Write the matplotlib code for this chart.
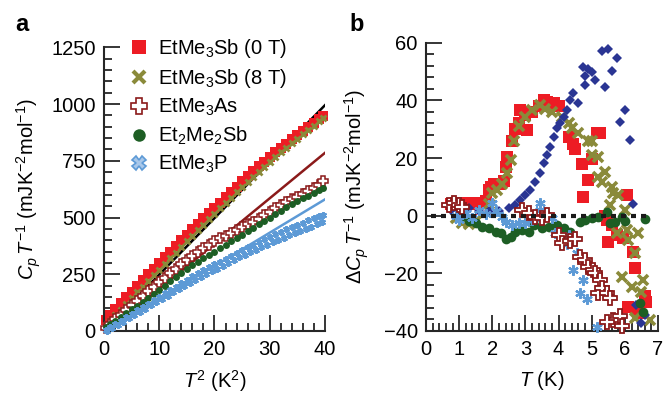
import matplotlib
matplotlib.use("Agg")
import matplotlib.pyplot as plt
from matplotlib.lines import Line2D
from matplotlib.ticker import MultipleLocator

plt.rcParams['font.family'] = ['Liberation Sans', 'DejaVu Sans']
plt.rcParams['mathtext.fontset'] = 'custom'
plt.rcParams['mathtext.rm'] = 'Liberation Sans'
plt.rcParams['mathtext.it'] = 'Liberation Sans:italic'
plt.rcParams['mathtext.bf'] = 'Liberation Sans:bold'

# ---------------- panel a data ----------------
t2 = [0.3, 1, 2, 3, 4, 5, 6, 7, 8, 9, 10, 11, 12, 13, 14, 15, 16, 17, 18, 19, 20,
      21, 22, 23, 24, 25, 26, 27, 28, 29, 30, 31, 32, 33, 34, 35, 36, 37, 38, 39, 39.7]
t2h = [0.5, 1.5, 2.5, 3.5, 4.5, 5.5, 6.5, 7.5, 8.5, 9.5, 10.5, 11.5, 12.5, 13.5, 14.5,
       15.5, 16.5, 17.5, 18.5, 19.5, 20.5, 21.5, 22.5, 23.5, 24.5, 25.5, 26.5, 27.5, 28.5,
       29.5, 30.5, 31.5, 32.5, 33.5, 34.5, 35.5, 36.5, 37.5, 38.5, 39.5]
sb0 = [50, 72, 98, 122, 148, 173, 199, 224, 250, 275, 300, 325, 350, 374, 400, 424, 448,
       472, 496, 520, 543, 566, 590, 613, 636, 659, 682, 703, 725, 746, 767, 787, 807, 826,
       845, 863, 881, 898, 915, 932, 948]
sb8 = [28, 46, 70, 94, 119, 144, 170, 195, 220, 245, 270, 295, 320, 345, 370, 395, 420,
       444, 468, 492, 516, 540, 564, 588, 611, 634, 657, 680, 702, 724, 746, 767, 788, 808,
       828, 848, 867, 886, 905, 924, 940]
asv = [12, 30, 52, 72, 93, 113, 134, 154, 175, 195, 215, 235, 255, 275, 295, 313, 331,
       348, 365, 380, 395, 408, 420, 432, 445, 458, 470, 482, 495, 510, 525, 540, 555, 568,
       580, 592, 605, 618, 630, 645, 660]
et2 = [18, 30, 46, 62, 79, 95, 112, 129, 146, 163, 181, 200, 219, 237, 255, 272, 289,
       305, 320, 335, 350, 365, 380, 395, 410, 425, 440, 455, 470, 485, 500, 515, 530, 545,
       559, 572, 585, 597, 609, 621, 632]
pv = [4, 16, 31, 46, 61, 76, 91, 106, 121, 136, 151, 166, 181, 196, 211, 226, 241,
      254, 267, 280, 293, 306, 319, 332, 345, 357, 369, 381, 393, 404, 415, 426, 437, 448,
      458, 468, 478, 488, 497, 505, 512]
pv_low = [2, 14, 28, 41, 56, 70, 84, 99, 113, 127, 141, 156, 170, 184, 198, 212, 226,
          238, 251, 263, 275, 288, 300, 312, 324, 335, 347, 358, 369, 380, 390, 400, 411,
          421, 431, 441, 451, 460, 470, 480]
# fit lines (endpoints)
fit_sb_x, fit_sb_y = [0, 40], [0, 995]
fit_as_x, fit_as_y = [0.8, 40], [0, 785]
fit_p_x, fit_p_y = [0.5, 40], [0, 580]

# ---------------- panel b data ----------------
r_T = [0.75, 0.9, 1.05, 1.2, 1.35, 1.5, 1.65, 1.8, 1.2, 1.35, 1.9, 1.95, 2.05, 2.2, 2.35,
       2.4, 2.45, 2.6, 2.7, 2.8, 2.85, 3.0, 3.05, 3.2, 3.4, 3.55, 3.65, 3.85, 4.0, 4.3, 4.45,
       4.5, 4.7, 4.75, 4.9, 5.0, 5.15, 5.25, 5.4, 5.45, 5.5, 5.6, 5.75, 5.95, 6.05, 6.1,
       6.25, 6.3, 6.4, 6.6, 6.65]
r_V = [4, 4.5, 4, 4.5, 4, 4.2, 4.5, 5, -1.5, -1.5, 9, 10, 11, 11, 12,
       17, 20.5, 26, 30, 32, 36.7, 35, 29.7, 36, 38, 40, 39.5, 39, 38, 27.4, 25,
       23, 18, 6.5, 12.3, 19.5, 28.6, 28.6, 0, -1.6, -9.1, -3.3, -6.8, -7.9, 7.1, -31.7,
       -12.6, -18.4, -34, -28, -30]
o_T = [0.9, 1.1, 1.3, 1.5, 1.9, 2.0, 2.15, 2.3, 2.45, 2.55, 2.65, 2.8, 3.0, 3.2, 3.45, 3.6,
       3.8, 4.1, 4.3, 4.4, 4.6, 4.9, 5.0, 5.0, 5.2, 5.2, 5.3, 5.4, 5.6, 5.65, 5.8, 5.55, 6.0,
       5.75, 6.05, 6.1, 6.4, 6.3, 5.9, 6.2, 6.55, 6.5, 6.3, 6.75]
o_V = [-1, -2.7, -3, -2, 4, 7.7, 9, 11, 14.7, 19.3, 26, 31, 34.4, 36.7, 38.4, 37,
       36, 34.4, 32, 30.3, 28.6, 26, 26, 21, 20.5, 13.5, 11.8, 15.2, 10, 7.7, 7, 3.7, 1.9,
       -6.2, -5, -8.5, -6.2, -13.2, -21.3, -24.7, -22.4, -26.5, -35.8, -36.3]
g_T = [1.1, 1.3, 1.5, 1.7, 1.9, 2.1, 2.25, 2.4, 2.55, 2.7, 2.9, 3.1, 3.25, 3.5, 3.7, 3.95,
       4.15, 4.35, 4.65, 4.8, 5.0, 5.2, 5.45, 5.55, 5.7, 5.9, 6.0, 6.6, 6.45, 6.55]
g_V = [0, -2, -2.7, -3.9, -4.5, -5.6, -6.2, -8, -7.4, -5.6, -5, -5.6, -3.3, -4.5, -3.9, -3.3,
       -4.5, -5.6, -2.1, -1.6, -1, -0.4, 1.3, -2.7, -2.1, -0.4, -1.8, -1.2, -30.5, -33.5]
d_T = [0.75, 1.0, 1.3, 1.6, 1.9, 2.2, 2.5, 2.7, 2.85, 3.0, 3.15, 3.3, 3.45, 3.55, 3.65, 3.75,
       3.85, 3.95, 4.05, 4.15, 4.24, 4.34, 4.44, 4.59, 4.74, 4.79, 4.8, 4.9, 5.0, 5.1, 5.3,
       5.39, 5.5, 5.6, 5.76, 5.86, 6.01, 6.16, 6.25, 6.35, 6.6, 6.5]
d_V = [1.9, 1.7, 2.5, 1.7, 1.7, 1.7, 2.5, 3.7, 5.4, 7.1, 8.9, 11.8, 14.7, 18.1, 21, 24,
       27.4, 30.3, 32, 34.4, 36.8, 40.2, 42.6, 39.1, 51.8, 48.5, 45.4, 51, 50, 47, 57.2,
       44.6, 58, 50.2, 54.8, 32.4, 36.8, 26.1, 4, -31.1, -34.6, -37.5]
b_T = [0.9, 1.0, 1.2, 1.4, 1.6, 1.8, 2.0, 2.1, 2.3, 2.4, 2.6, 2.8, 3.0, 3.2, 3.3, 3.44,
       3.44, 3.6, 3.8, 3.9, 4.04, 4.1, 4.24, 4.3, 4.44, 4.55, 4.65, 4.75, 4.85, 5.15]
b_V = [0, -1.5, 1, -1, 2, 0.5, 4.2, 1.5, -0.5, -2.1, -3.3, -2.5, -2.7, -1.5, -1, 4.3,
       2, 0.5, -1, -6.2, -6.8, -8.5, -9.8, -6.8, -19.1, -13.2, -27, -22.4, -29, -38.7]
a_T = [0.7, 0.85, 1.0, 1.1, 2.9, 3.1, 3.3, 3.5, 3.65, 4.0, 4.1, 4.34, 4.49, 4.65, 4.8,
       4.9, 5.05, 5.1, 5.25, 5.2, 5.3, 5.45, 5.55, 5.65, 5.85, 5.9, 5.45]
a_V = [3.7, 4.2, 3.5, 3, 1.9, 0.8, -0.4, -1, 0.2, -6.8, -9.7, -8.8, -8, -14.3, -15.5,
       -17.8, -19.1, -20.1, -22.6, -27, -25.3, -27, -28.7, -36.2, -35, -38.6, -36.9]
zero_x, zero_y = [0.15, 6.75], [0, 0]

labels = ['EtMe$_3$Sb (0 T)', 'EtMe$_3$Sb (8 T)', 'EtMe$_3$As', 'Et$_2$Me$_2$Sb', 'EtMe$_3$P']

RED = '#ed1c24'
OLIVE = '#8a8a3a'
DRED = '#8b1a1a'
GREEN = '#1d5e24'
LBLUE = '#5d9ad6'
NAVY = '#2a3593'
SPINE = '#262626'
FS = 14.5

fig = plt.figure(figsize=(6.65, 3.93), dpi=100)
axa = fig.add_axes([0.1564, 0.1578, 0.3323, 0.7218])
axb = fig.add_axes([0.6406, 0.159, 0.3489, 0.7316])

def style(ax):
    for s in ['top', 'right']:
        ax.spines[s].set_visible(False)
    for s in ['left', 'bottom']:
        ax.spines[s].set_linewidth(1.5)
        ax.spines[s].set_color(SPINE)
    ax.tick_params(which='both', direction='in', color=SPINE, labelsize=FS, width=1.3)
    ax.tick_params(which='major', length=11.5)
    ax.tick_params(which='minor', length=6)
    ax.tick_params(axis='x', pad=6.5)
    ax.tick_params(axis='y', pad=6)

# ---- panel a ----
axa.plot(fit_sb_x, fit_sb_y, color='black', lw=1.8, zorder=1)
axa.plot(fit_as_x, fit_as_y, color=DRED, lw=1.8, zorder=1)
axa.plot(fit_p_x, fit_p_y, color=LBLUE, lw=1.8, zorder=1)
axa.plot(t2, sb0, ls='none', marker='s', ms=7, color=RED, mew=0, zorder=2, clip_on=False)
axa.plot(t2, sb8, ls='none', marker='x', ms=5, mew=2.0, color=OLIVE, zorder=3, clip_on=False)
axa.plot(t2, asv, ls='none', marker='P', ms=7, mfc='white', mec=DRED, mew=1.1, zorder=3, clip_on=False)
axa.plot(t2, et2, ls='none', marker='o', ms=5, color=GREEN, mew=0, zorder=3, clip_on=False)
axa.plot(t2, pv, ls='none', marker=(6, 2, 0), ms=5, mew=1.4, color=LBLUE, zorder=3, clip_on=False)
axa.plot(t2h, pv_low, ls='none', marker=(6, 2, 0), ms=5, mew=1.4, color=LBLUE, zorder=3, clip_on=False)
axa.set_xlim(0, 40)
axa.set_ylim(0, 1250)
axa.xaxis.set_major_locator(MultipleLocator(10))
axa.xaxis.set_minor_locator(MultipleLocator(2))
axa.yaxis.set_major_locator(MultipleLocator(250))
axa.yaxis.set_minor_locator(MultipleLocator(50))
style(axa)
axa.set_xlabel(r'$T^2$ (K$^2$)', fontsize=FS)
axa.set_ylabel(r'$C_p\,T^{-1}$ (mJK$^{-2}$mol$^{-1}$)', fontsize=FS)
axa.xaxis.set_label_coords(0.5, -0.13)
axa.yaxis.set_label_coords(-0.275, 0.5)

handles = [
    Line2D([], [], ls='none', marker='s', ms=10, color=RED, mew=0),
    Line2D([], [], ls='none', marker='x', ms=8, mew=3, color=OLIVE),
    Line2D([], [], ls='none', marker='P', ms=11, mfc='white', mec=DRED, mew=1.2),
    Line2D([], [], ls='none', marker='o', ms=9, color=GREEN, mew=0),
    Line2D([], [], ls='none', marker='X', ms=10, color=LBLUE, mfc='#a9c8ea', mew=1.2),
]
axa.legend(handles, labels, loc='upper left', bbox_to_anchor=(0.115, 1.035), frameon=False,
           fontsize=FS, handlelength=1.0, handletextpad=0.4, labelspacing=0.33,
           borderaxespad=0, borderpad=0)

# ---- panel b ----
axb.plot(r_T, r_V, ls='none', marker='s', ms=8.5, color=RED, mew=0, zorder=2, clip_on=False)
axb.plot(o_T, o_V, ls='none', marker='x', ms=7.5, mew=2.6, color=OLIVE, zorder=3, clip_on=False)
axb.plot(d_T, d_V, ls='none', marker='D', ms=5.5, color=NAVY, mew=0, zorder=4, clip_on=False)
axb.plot(g_T, g_V, ls='none', marker='o', ms=7, color=GREEN, mew=0, zorder=4, clip_on=False)
axb.plot(b_T, b_V, ls='none', marker=(6, 2, 0), ms=7.5, mew=1.6, color=LBLUE, zorder=4, clip_on=False)
axb.plot(a_T, a_V, ls='none', marker='P', ms=10, mfc='white', mec=DRED, mew=1.3, zorder=5, clip_on=False)
axb.plot(zero_x, zero_y, color='#1a1a1a', lw=3, dashes=(1.2, 1.2), zorder=6)
axb.set_xlim(0, 7)
axb.set_ylim(-40, 60)
axb.xaxis.set_major_locator(MultipleLocator(1))
axb.xaxis.set_minor_locator(MultipleLocator(0.2))
axb.yaxis.set_major_locator(MultipleLocator(20))
axb.yaxis.set_minor_locator(MultipleLocator(4))
style(axb)
axb.set_xlabel(r'$T$ (K)', fontsize=FS)
axb.set_ylabel(r'$\Delta C_p\,T^{-1}$ (mJK$^{-2}$mol$^{-1}$)', fontsize=FS)
axb.xaxis.set_label_coords(0.5, -0.135)
axb.yaxis.set_label_coords(-0.235, 0.5)

fig.text(15 / 665, 1 - 31 / 393, 'a', fontsize=17, fontweight='bold', ha='left', va='baseline')
fig.text(349 / 665, 1 - 31 / 393, 'b', fontsize=17, fontweight='bold', ha='left', va='baseline')

fig.savefig('out.png', dpi=100)
